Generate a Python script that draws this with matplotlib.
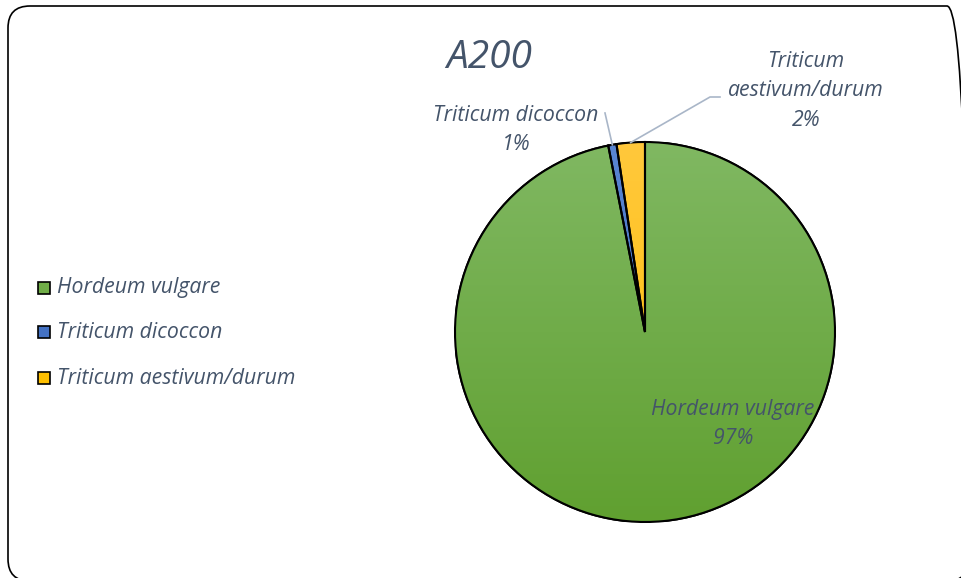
import matplotlib
matplotlib.use("Agg")
import matplotlib.pyplot as plt
import numpy as np
from matplotlib.patches import FancyBboxPatch, Wedge
from matplotlib.colors import LinearSegmentedColormap

# ---- data ----
categories = ["Hordeum vulgare", "Triticum dicoccon", "Triticum aestivum/durum"]
values = [96.9, 0.7, 2.4]
title = "A200"

colors_top = ["#80B862", "#5A86D2", "#FFC83C"]
colors_bot = ["#60A030", "#3C68BA", "#FFBE00"]
solid = ["#70AD47", "#4472C4", "#FFC000"]
txt_color = "#44546A"
FONT = "Open Sans"

W, H = 961, 578
fig = plt.figure(figsize=(W / 100, H / 100), dpi=100)

# rounded border (in inches)
border = FancyBboxPatch((0.08, (H - 581) / 100), (969 - 8) / 100, (581 - 6) / 100,
                        boxstyle="round,pad=0,rounding_size=0.22",
                        transform=fig.dpi_scale_trans, fill=False,
                        edgecolor="black", linewidth=1.2, clip_on=False)
fig.patches.append(border)

cx, cy, R = 645, 332, 190
ax = fig.add_axes([(cx - R) / W, (H - cy - R) / H, 2 * R / W, 2 * R / H])
ax.set_axis_off()


def px(x, y):
    return (x - cx) / R, -(y - cy) / R


wedges, _ = ax.pie(values, startangle=90, counterclock=False, radius=1,
                   colors=solid,
                   wedgeprops=dict(edgecolor="black", linewidth=1.5))
ax.set_xlim(-1, 1)
ax.set_ylim(-1, 1)

# gradient fills
for i, w in enumerate(wedges):
    cmap = LinearSegmentedColormap.from_list("g", [colors_bot[i], colors_top[i]])
    grad = np.linspace(0, 1, 256).reshape(-1, 1)
    im = ax.imshow(grad, extent=[-1, 1, -1, 1], origin="lower", cmap=cmap,
                   aspect="auto", zorder=1)
    im.set_clip_path(w)
    w.set_zorder(0)
    edge = Wedge(w.center, w.r, w.theta1, w.theta2, facecolor="none",
                 edgecolor="black", linewidth=1.5, zorder=3)
    ax.add_patch(edge)
ax.set_xlim(-1, 1)
ax.set_ylim(-1, 1)

total = sum(values)
pcts = [v / total * 100 for v in values]

FS = 15.3
tkw = dict(color=txt_color, fontsize=FS, style="italic", family=FONT,
           ha="center", va="center", clip_on=False, zorder=5,
           linespacing=1.55)

# data labels
x, y = px(733, 424)
ax.text(x, y, f"{categories[0]}\n{pcts[0]:.0f}%", **tkw)
x, y = px(516, 130)
ax.text(x, y, f"{categories[1]}\n{pcts[1]:.0f}%", **tkw)
x, y = px(806, 91)
ax.text(x, y, f"Triticum\naestivum/durum\n{pcts[2]:.0f}%", **tkw)

# leader lines
lc = "#A9B6C8"
leaders = [(1, [(605, 113)]), (2, [(710, 97), (720, 97)])]
for i, ends in leaders:
    w = wedges[i]
    ang = np.deg2rad((w.theta1 + w.theta2) / 2)
    pts = [(np.cos(ang), np.sin(ang))] + [px(a, b) for a, b in ends]
    xs, ys = zip(*pts)
    ax.plot(xs, ys, color=lc, linewidth=1.2, clip_on=False, zorder=4)

# title
fig.text(489 / W, 1 - 58 / H, title, color=txt_color, fontsize=28,
         style="italic", family=FONT, ha="center", va="center")

# legend
leg_y = [288, 332, 378]
for i, name in enumerate(categories):
    yy = 1 - leg_y[i] / H
    fig.patches.append(plt.Rectangle((38 / W, yy - 6 / H), 12 / W, 12 / H,
                                     transform=fig.transFigure,
                                     facecolor=solid[i], edgecolor="black",
                                     linewidth=1.2))
    fig.text(57 / W, yy, name, color=txt_color, fontsize=FS,
             style="italic", family=FONT, ha="left", va="center")

fig.savefig("out.png", dpi=100)
